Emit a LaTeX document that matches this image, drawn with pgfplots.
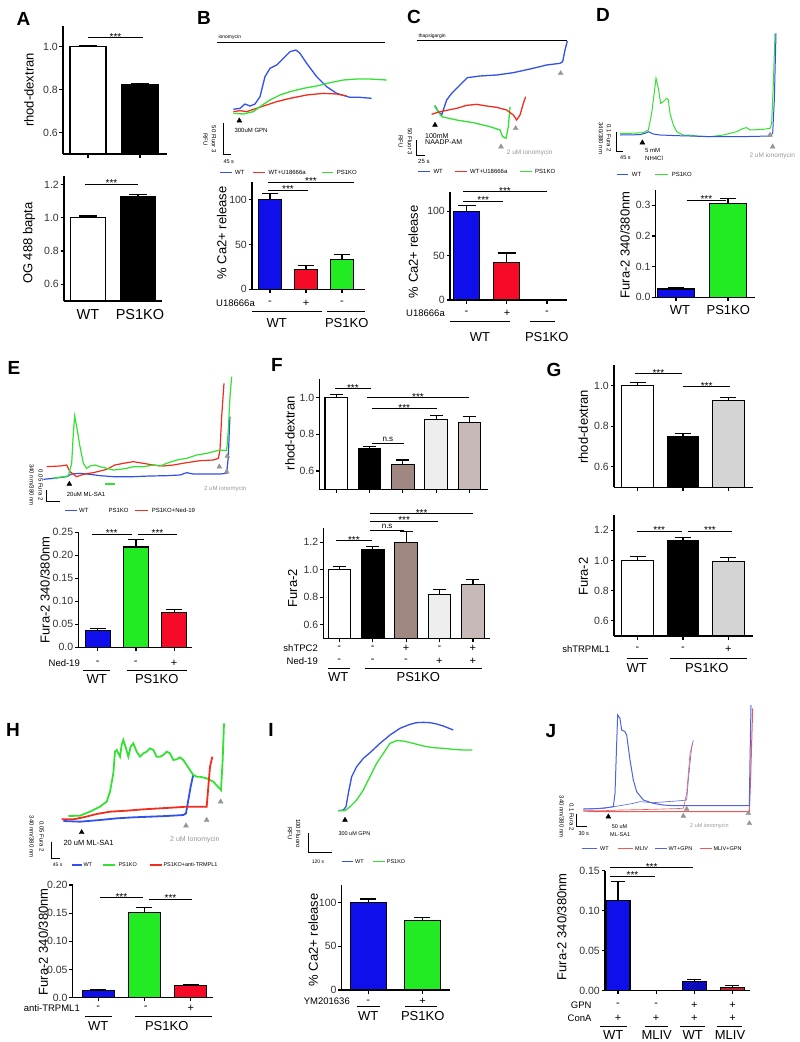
\documentclass[border=0pt]{standalone}
\usepackage{pgfplots}
\pgfplotsset{compat=1.18}
\usetikzlibrary{patterns}
\usepackage{fontspec}
\setmainfont{Liberation Sans}
\definecolor{cB}{RGB}{15,15,235}
\definecolor{cR}{RGB}{245,10,40}
\definecolor{cG}{RGB}{35,235,35}
\definecolor{tB}{RGB}{50,80,235}
\definecolor{tR}{RGB}{240,45,30}
\definecolor{tG}{RGB}{50,225,50}
\definecolor{jB}{RGB}{80,100,225}
\definecolor{jR}{RGB}{235,90,90}
\definecolor{brn}{RGB}{160,135,130}
\definecolor{lgr}{RGB}{238,238,238}
\definecolor{pgr}{RGB}{200,185,185}
\definecolor{ggr}{RGB}{212,212,212}
\definecolor{arr}{RGB}{150,150,150}
\newcommand{\fs}[1]{\fontsize{#1}{#1}\selectfont}
\pgfplotsset{
  tr/.style={scale only axis, hide axis, clip=false, y dir=reverse, xmin=0, ymin=0, anchor=north west},
  bx/.style={scale only axis, anchor=south west, axis lines*=left, axis on top, clip=true,
    axis line style={line width=1.1pt}, tick style={line width=1.1pt, black}, tick align=outside,
    major tick length=3.5pt, xticklabels={,,,,,,},
    yticklabel style={font=\fs{10.5}, text=black!80, inner sep=1.5pt},
    enlargelimits=false},
  bar/.style 2 args={ybar, bar width=#1, draw=black, line width=1.1pt,
    error bars/y dir=plus, error bars/y explicit,
    error bars/error bar style={line width=1.1pt, black, solid},
    error bars/error mark options={rotate=90, mark size=#2, line width=1.1pt, black}},
}
\newcommand\tx[4]{\node[font=\fs{#1}, anchor=west, inner sep=0pt] at (axis cs:#2,#3) {#4};}
\newcommand\gx[4]{\node[font=\fs{#1}, anchor=west, inner sep=0pt, text=arr] at (axis cs:#2,#3) {#4};}
\newcommand\rx[4]{\node[font=\fs{#1}, rotate=-90, inner sep=0pt] at (axis cs:#2,#3) {#4};}
\newcommand\sig[3]{\draw[line width=1pt] (#1,#3) -- (#2,#3); \node[font=\fs{10}, anchor=base, inner sep=0pt] at ({(#1+#2)/2},{#3+2.8}) {***};}
\newcommand\ns[3]{\draw[line width=1pt] (#1,#3) -- (#2,#3); \node[font=\fs{8}, anchor=base, inner sep=0pt] at ({(#1+#2)/2},{#3-1.5}) {n.s};}
\newcommand\hl[3]{\draw[line width=1pt] (#1,#3) -- (#2,#3);}
\newcommand\yl[3]{\node[rotate=90, font=\fs{13}] at (#1,#2) {#3};}
\newcommand\sg[3]{\node[font=\fs{11}, inner sep=0pt] at (#1,#2) {#3};}
\newcommand\gl[3]{\node[font=\fs{13}, inner sep=0pt] at (#1,#2) {#3};}
\newcommand\rl[3]{\node[font=\fs{9.5}, anchor=east, inner sep=0pt] at (#1,#2) {#3};}
\newcommand\pl[3]{\node[font=\fs{19}\bfseries, inner sep=0pt] at (#1,#2) {#3};}
\begin{document}
\begin{tikzpicture}
\useasboundingbox (0,0) rectangle (800pt,-1042pt);

% ---------- B traces
\begin{axis}[tr, at={(190pt,0pt)}, width=200pt, height=330pt, xmax=600, ymax=990]
\addplot[black, line width=1.3pt] coordinates {(80,128)(585,128)};
\tx{5}{85}{112}{ionomycin}
\addplot[tB, line width=1.3pt] coordinates {(130,328)(150,325)(165,312)(180,318)(195,312)(210,290)(225,230)(240,205)(260,195)(280,175)(300,155)(318,150)(330,160)(350,190)(380,230)(410,260)(440,280)(480,292)(510,292)(545,295)};
\addplot[tR, line width=1.3pt] coordinates {(130,335)(150,332)(170,335)(200,325)(230,315)(260,305)(300,295)(350,285)(400,280)(440,282)(470,288)};
\addplot[tG, line width=1.3pt] coordinates {(130,340)(160,342)(190,335)(210,320)(240,300)(270,285)(300,275)(340,265)(380,258)(420,248)(460,240)(500,237)(540,237)(590,240)};
\addplot[only marks, mark=triangle*, mark size=2.8pt, black] coordinates {(148,362)};
\tx{6}{133}{392}{300uM GPN}
\addplot[black, line width=1pt] coordinates {(100,370)(100,463)(122,463)};
\rx{6}{72}{418}{50 Fluor 3}
\rx{6}{46}{418}{RFU}
\tx{5.5}{100}{484}{45 s}
\addplot[tB, line width=1.3pt] coordinates {(90,518)(125,518)};
\tx{6}{135}{518}{WT}
\addplot[tR, line width=1.3pt] coordinates {(190,518)(225,518)};
\tx{6}{235}{518}{WT+U18666a}
\addplot[tG, line width=1.3pt] coordinates {(395,518)(430,518)};
\tx{6}{440}{518}{PS1KO}
\end{axis}

% ---------- C traces
\begin{axis}[tr, at={(380pt,0pt)}, width=220pt, height=330pt, xmax=660, ymax=990]
\addplot[black, line width=1.3pt] coordinates {(110,122)(560,122)};
\tx{5}{115}{108}{thapsigargin}
\addplot[tB, line width=1.3pt] coordinates {(165,317)(175,335)(185,345)(200,300)(215,280)(240,255)(262,233)(300,228)(350,225)(400,218)(450,207)(500,195)(540,190)(548,185)(555,150)(562,123)};
\addplot[tG, line width=1.3pt] coordinates {(163,317)(175,335)(185,350)(230,360)(280,368)(330,380)(360,390)(368,410)(378,415)(385,380)(390,320)};
\addplot[tR, line width=1.3pt] coordinates {(155,343)(170,338)(190,333)(230,325)(260,316)(290,313)(320,318)(350,322)(380,330)(400,345)(410,360)(420,345)(430,310)(437,290)};
\addplot[only marks, mark=triangle*, mark size=2.8pt, black] coordinates {(165,375)};
\addplot[only marks, mark=triangle*, mark size=2.8pt, arr] coordinates {(407,385)(363,440)(542,220)};
\tx{7}{135}{407}{100mM}
\tx{7}{135}{427}{NAADP-AM}
\gx{6.5}{380}{457}{2 uM ionomycin}
\addplot[black, line width=1pt] coordinates {(110,420)(110,465)(135,465)};
\rx{6}{90}{425}{50 Fluor 3}
\rx{6}{62}{425}{RFU}
\tx{6}{114}{483}{25 s}
\addplot[tB, line width=1.3pt] coordinates {(115,515)(150,515)};
\tx{6}{160}{515}{WT}
\addplot[tR, line width=1.3pt] coordinates {(225,515)(260,515)};
\tx{6}{270}{515}{WT+U18666a}
\addplot[tG, line width=1.3pt] coordinates {(420,515)(455,515)};
\tx{6}{465}{515}{PS1KO}
\end{axis}

% ---------- D traces
\begin{axis}[tr, at={(590pt,0pt)}, width=210pt, height=330pt, xmax=630, ymax=990]
\addplot[tG, line width=1pt] coordinates {(90,400)(120,400)(160,398)(175,390)(185,340)(195,260)(198,235)(205,265)(212,310)(220,305)(230,295)(235,300)(240,340)(250,375)(260,395)(280,405)(300,405)(320,408)(360,410)(400,405)(440,395)(460,385)(470,383)(480,390)(520,388)(540,385)(545,370)(550,250)(555,100)};
\addplot[tB, line width=1pt] coordinates {(90,405)(150,404)(165,400)(175,395)(190,402)(210,405)(260,407)(300,408)(360,410)(400,410)(450,410)(500,409)(540,408)(548,400)(553,300)(558,100)};
\addplot[only marks, mark=triangle*, mark size=2.8pt, black] coordinates {(157,428)};
\addplot[only marks, mark=triangle*, mark size=2.8pt, arr] coordinates {(540,405)(548,440)};
\tx{6}{165}{450}{5 mM}
\tx{6}{165}{475}{NH4Cl}
\gx{6.5}{478}{467}{2 uM ionomycin}
\addplot[black, line width=1pt] coordinates {(78,395)(78,455)(100,455)};
\rx{6}{57}{415}{0.1 Fura 2}
\rx{6}{33}{415}{340/380 nm}
\tx{5.5}{90}{472}{45 s}
\addplot[tB, line width=1.3pt] coordinates {(80,523)(115,523)};
\tx{6}{125}{523}{WT}
\addplot[tG, line width=1.3pt] coordinates {(195,523)(235,523)};
\tx{6}{245}{523}{PS1KO}
\end{axis}

% ---------- E traces
\begin{axis}[tr, at={(0pt,-330pt)}, width=270pt, height=330pt, xmax=810, ymax=990]
\addplot[tB, line width=1.2pt] coordinates {(130,448)(160,445)(200,440)(215,432)(240,430)(270,433)(300,437)(340,440)(400,440)(450,438)(500,437)(540,435)(560,428)(580,432)(620,432)(660,432)(680,430)(685,380)(688,300)(690,260)};
\addplot[tR, line width=1.2pt] coordinates {(140,410)(180,408)(200,405)(210,425)(230,440)(250,433)(280,428)(320,418)(345,405)(370,400)(400,395)(430,400)(460,405)(490,408)(520,405)(560,398)(600,392)(640,390)(655,385)(660,360)(665,260)(672,160)};
\addplot[tG, line width=1.2pt] coordinates {(160,445)(190,440)(205,438)(215,400)(220,310)(224,258)(230,290)(240,350)(250,400)(260,415)(270,408)(285,405)(300,410)(320,415)(340,420)(360,418)(380,415)(400,410)(430,410)(460,405)(480,408)(500,400)(530,390)(560,385)(590,375)(620,370)(640,365)(660,360)(680,362)(685,300)(690,200)(695,140)};
\addplot[only marks, mark=triangle*, mark size=2.8pt, black] coordinates {(208,462)};
\addplot[only marks, mark=triangle*, mark size=2.8pt, arr] coordinates {(658,410)(682,378)(680,425)};
\addplot[tG, line width=1.8pt] coordinates {(315,462)(345,462)};
\tx{6}{200}{492}{20uM ML-SA1}
\gx{6}{612}{478}{2 uM ionomycin}
\addplot[black, line width=1pt] coordinates {(140,480)(140,515)(180,515)};
\rx{6}{122}{465}{0.05 Fura 2}
\rx{6}{95}{465}{340 nm/380 nm}
\addplot[tB, line width=1.3pt] coordinates {(195,542)(230,542)};
\tx{6}{237}{542}{WT}
\tx{6}{325}{542}{PS1KO}
\addplot[tR, line width=1.3pt] coordinates {(405,542)(445,542)};
\tx{6}{455}{542}{PS1KO+Ned-19}
\end{axis}

% ---------- H traces
\begin{axis}[tr, at={(0pt,-660pt)}, width=270pt, height=382pt, xmax=810, ymax=1146]
\addplot[tB, line width=1.8pt] coordinates {(190,483)(240,485)(300,480)(350,475)(400,472)(450,470)(500,468)(550,465)(558,460)(565,420)(572,380)(580,343)};
\addplot[tG, line width=1.8pt] coordinates {(205,468)(240,467)(270,455)(300,440)(320,425)(330,395)(340,340)(345,275)(350,270)(355,280)(360,290)(365,255)(370,240)(378,265)(385,290)(392,260)(400,250)(410,275)(420,290)(430,280)(440,275)(450,265)(460,270)(470,290)(480,290)(490,285)(500,275)(510,280)(520,300)(530,298)(540,292)(550,300)(560,315)(570,330)(580,345)(590,350)(600,350)(620,355)(640,365)(663,390)(668,300)(672,190)};
\addplot[tR, line width=1.8pt] coordinates {(185,478)(220,478)(250,472)(290,462)(330,455)(380,452)(430,448)(480,445)(530,442)(560,440)(580,440)(620,440)(625,380)(630,320)(637,290)};
\addplot[only marks, mark=triangle*, mark size=2.8pt, black] coordinates {(245,517)};
\addplot[only marks, mark=triangle*, mark size=2.8pt, arr] coordinates {(558,497)(620,480)(662,425)};
\tx{7.5}{190}{550}{20 uM ML-SA1}
\gx{7}{510}{540}{2 uM Ionomycin}
\addplot[black, line width=1pt] coordinates {(155,545)(155,595)(180,595)};
\rx{6}{125}{530}{0.05 Fura 2}
\rx{6}{95}{530}{340 nm/380 nm}
\tx{5}{158}{615}{45 s}
\addplot[tB, line width=1.3pt] coordinates {(215,615)(245,615)};
\tx{5.5}{250}{615}{WT}
\addplot[tG, line width=1.3pt] coordinates {(310,615)(345,615)};
\tx{5.5}{355}{615}{PS1KO}
\addplot[tR, line width=1.3pt] coordinates {(450,615)(485,615)};
\tx{5.5}{490}{615}{PS1KO+anti-TRMPL1}
\end{axis}

% ---------- I traces
\begin{axis}[tr, at={(270pt,-660pt)}, width=250pt, height=382pt, xmax=750, ymax=1146]
\addplot[tB, line width=1.3pt] coordinates {(205,452)(220,450)(228,440)(235,400)(245,350)(260,320)(280,295)(300,278)(330,250)(360,225)(390,205)(420,193)(440,188)(460,187)(480,188)(500,192)(520,198)(550,210)};
\addplot[tG, line width=1.3pt] coordinates {(205,452)(225,452)(240,440)(260,420)(280,390)(300,350)(320,310)(340,280)(360,250)(380,242)(400,243)(430,250)(460,258)(490,263)(520,265)(550,268)(580,270)(607,270)};
\addplot[only marks, mark=triangle*, mark size=2.8pt, black] coordinates {(225,480)};
\tx{5.5}{205}{522}{300 uM GPN}
\addplot[black, line width=1pt] coordinates {(115,520)(115,578)(185,578)};
\rx{6}{85}{520}{100 Fluoro}
\rx{6}{60}{520}{RFU}
\tx{5}{125}{605}{120 s}
\addplot[tB, line width=1.3pt] coordinates {(215,605)(250,605)};
\tx{5.5}{255}{605}{WT}
\addplot[tG, line width=1.3pt] coordinates {(310,605)(345,605)};
\tx{5.5}{350}{605}{PS1KO}
\end{axis}

% ---------- J traces
\begin{axis}[tr, at={(520pt,-660pt)}, width=280pt, height=382pt, xmax=840, ymax=1146]
\addplot[jB, line width=0.6pt] coordinates {(190,447)(250,445)(300,437)(340,430)(360,425)(400,428)(440,425)(470,423)(500,420)(505,360)(515,260)(520,240)};
\addplot[jR, line width=0.6pt] coordinates {(190,452)(250,452)(300,450)(400,448)(490,445)(500,400)(510,280)(518,250)};
\addplot[jR, line width=1pt] coordinates {(190,453)(230,455)(300,455)(400,455)(500,455)(600,455)(688,455)(692,350)(698,145)};
\addplot[jB, line width=1pt] coordinates {(190,447)(230,446)(260,443)(280,440)(285,400)(290,250)(293,165)(300,175)(305,210)(315,215)(320,225)(330,300)(340,360)(350,395)(370,420)(400,430)(430,435)(460,437)(500,437)(550,437)(600,437)(650,437)(688,437)(690,300)(693,135)};
\addplot[only marks, mark=triangle*, mark size=2.8pt, black] coordinates {(265,470)};
\addplot[only marks, mark=triangle*, mark size=2.8pt, arr] coordinates {(490,468)(500,447)(685,460)(688,490)};
\tx{5.5}{275}{500}{50 uM}
\tx{5.5}{270}{523}{ML-SA1}
\gx{5.5}{510}{498}{2 uM ionomycin}
\addplot[black, line width=1pt] coordinates {(170,462)(170,500)(200,500)};
\rx{6}{155}{470}{0.1 Fura 2}
\rx{6}{125}{470}{340 nm/380 nm}
\tx{5.5}{175}{522}{30 s}
\addplot[jB, line width=1.6pt] coordinates {(185,565)(230,565)};
\tx{5.5}{240}{565}{WT}
\addplot[jR, line width=1.6pt] coordinates {(295,565)(340,565)};
\tx{5.5}{345}{565}{MLIV}
\addplot[jB, line width=0.6pt] coordinates {(405,565)(440,565)};
\tx{5.5}{445}{565}{WT+GPN}
\addplot[jR, line width=0.6pt] coordinates {(540,565)(575,565)};
\tx{5.5}{580}{565}{MLIV+GPN}
\end{axis}

% ---------- bar charts
% A top
\begin{axis}[bx, at={(63pt,-154pt)}, width=104pt, height=128.5pt, xmin=-0.48, xmax=1.52, ymin=0.5, ymax=1.1,
  xtick={0,1}, ytick={0.6,0.8,1.0}, yticklabels={0.6,0.8,1.0}]
\addplot[fill=white, bar={36pt}{9pt}] coordinates {(0,1.0) +- (0,0.006)};
\addplot[fill=black, bar={36pt}{9pt}] coordinates {(1,0.826) +- (0,0.005)};
\end{axis}
% A bottom
\begin{axis}[bx, at={(64pt,-301pt)}, width=98pt, height=125pt, xmin=-0.48, xmax=1.48, ymin=0.5, ymax=1.25,
  xtick=\empty, ytick={0.6,0.8,1.0,1.2}, yticklabels={0.6,0.8,1.0,1.2}]
\addplot[fill=white, bar={35pt}{9pt}] coordinates {(0,1.0) +- (0,0.01)};
\addplot[fill=black, bar={35pt}{9pt}] coordinates {(1,1.125) +- (0,0.015)};
\end{axis}
% B
\begin{axis}[bx, at={(252pt,-289.3pt)}, width=113pt, height=107.6pt, xmin=-0.5, xmax=2.64, ymin=0, ymax=120,
  xtick={0,1,2}, ytick={0,50,100}, yticklabels={0,50,100}]
\addplot[fill=cB, bar={23pt}{8pt}] coordinates {(0,100) +- (0,7)};
\addplot[fill=cR, bar={23pt}{8pt}] coordinates {(1,22) +- (0,5)};
\addplot[fill=cG, bar={23pt}{8pt}] coordinates {(2,33) +- (0,6)};
\end{axis}
% C
\begin{axis}[bx, at={(450pt,-300pt)}, width=116.7pt, height=108.3pt, xmin=-0.41, xmax=2.49, ymin=0, ymax=122,
  xtick={0,1,2}, ytick={0,50,100}, yticklabels={0,50,100}]
\addplot[fill=cB, bar={26pt}{9pt}] coordinates {(0,100) +- (0,6)};
\addplot[fill=cR, bar={26pt}{9pt}] coordinates {(1,42) +- (0,11)};
\addplot[fill=cG, bar={26pt}{9pt}] coordinates {(2,0.6) +- (0,0.4)};
\end{axis}
% D
\begin{axis}[bx, at={(655.7pt,-297.3pt)}, width=99.3pt, height=107.3pt, xmin=-0.39, xmax=1.52, ymin=0, ymax=0.35,
  xtick={0,1}, ytick={0,0.1,0.2,0.3}, yticklabels={0.0,0.1,0.2,0.3}]
\addplot[fill=cB, bar={37pt}{8pt}] coordinates {(0,0.027) +- (0,0.005)};
\addplot[fill=cG, bar={37pt}{8pt}] coordinates {(1,0.305) +- (0,0.017)};
\end{axis}
% E
\begin{axis}[bx, at={(78.3pt,-647.3pt)}, width=113.4pt, height=115pt, xmin=-0.51, xmax=2.46, ymin=0, ymax=0.25,
  xtick={0,1,2}, ytick={0,0.05,0.1,0.15,0.2,0.25}, yticklabels={0.0,0.05,0.10,0.15,0.20,0.25}]
\addplot[fill=cB, bar={25pt}{8pt}] coordinates {(0,0.036) +- (0,0.005)};
\addplot[fill=cG, bar={25pt}{8pt}] coordinates {(1,0.218) +- (0,0.016)};
\addplot[fill=cR, bar={25pt}{8pt}] coordinates {(2,0.075) +- (0,0.007)};
\end{axis}
% F top
\begin{axis}[bx, at={(319.3pt,-489.3pt)}, width=169pt, height=110pt, xmin=-0.51, xmax=4.57, ymin=0.5, ymax=1.1,
  xtick={0,1,2,3,4}, ytick={0.6,0.8,1.0}, yticklabels={0.6,0.8,1.0}]
\addplot[fill=white, bar={22.5pt}{6.5pt}] coordinates {(0,1.0) +- (0,0.015)};
\addplot[fill=black, bar={22.5pt}{6.5pt}] coordinates {(1,0.72) +- (0,0.012)};
\addplot[fill=brn, bar={22.5pt}{6.5pt}] coordinates {(2,0.635) +- (0,0.025)};
\addplot[fill=lgr, bar={22.5pt}{6.5pt}] coordinates {(3,0.88) +- (0,0.025)};
\addplot[fill=pgr, bar={22.5pt}{6.5pt}] coordinates {(4,0.865) +- (0,0.032)};
\end{axis}
% F bottom
\begin{axis}[bx, at={(323.3pt,-638.3pt)}, width=166.7pt, height=110pt, xmin=-0.48, xmax=4.51, ymin=0.5, ymax=1.3,
  xtick={0,1,2,3,4}, ytick={0.6,0.8,1.0,1.2}, yticklabels={0.6,0.8,1.0,1.2}]
\addplot[fill=white, bar={22.5pt}{6.5pt}] coordinates {(0,1.0) +- (0,0.02)};
\addplot[fill=black, bar={22.5pt}{6.5pt}] coordinates {(1,1.145) +- (0,0.025)};
\addplot[fill=brn, bar={22.5pt}{6.5pt}] coordinates {(2,1.2) +- (0,0.075)};
\addplot[fill=lgr, bar={22.5pt}{6.5pt}] coordinates {(3,0.82) +- (0,0.035)};
\addplot[fill=pgr, bar={22.5pt}{6.5pt}] coordinates {(4,0.89) +- (0,0.035)};
\end{axis}
% G top
\begin{axis}[bx, at={(614pt,-487.3pt)}, width=139.3pt, height=122.3pt, xmin=-0.52, xmax=2.55, ymin=0.5, ymax=1.1,
  xtick={0,1,2}, ytick={0.6,0.8,1.0}, yticklabels={0.6,0.8,1.0}]
\addplot[fill=white, bar={31.5pt}{8pt}] coordinates {(0,1.0) +- (0,0.015)};
\addplot[fill=black, bar={31.5pt}{8pt}] coordinates {(1,0.75) +- (0,0.012)};
\addplot[fill=ggr, bar={31.5pt}{8pt}] coordinates {(2,0.925) +- (0,0.015)};
\end{axis}
% G bottom
\begin{axis}[bx, at={(614pt,-636pt)}, width=139.3pt, height=121pt, xmin=-0.52, xmax=2.55, ymin=0.5, ymax=1.3,
  xtick={0,1,2}, ytick={0.6,0.8,1.0,1.2}, yticklabels={0.6,0.8,1.0,1.2}]
\addplot[fill=white, bar={31.5pt}{8pt}] coordinates {(0,1.0) +- (0,0.025)};
\addplot[fill=black, bar={31.5pt}{8pt}] coordinates {(1,1.13) +- (0,0.02)};
\addplot[fill=ggr, bar={31.5pt}{8pt}] coordinates {(2,0.995) +- (0,0.025)};
\end{axis}
% H
\begin{axis}[bx, at={(72.7pt,-997.7pt)}, width=140.6pt, height=112.7pt, xmin=-0.55, xmax=2.49, ymin=0, ymax=0.2,
  xtick={0,1,2}, ytick={0,0.05,0.1,0.15,0.2}, yticklabels={0.0,0.05,0.10,0.15,0.20}]
\addplot[fill=cB, bar={32pt}{8pt}] coordinates {(0,0.013) +- (0,0.001)};
\addplot[fill=cG, bar={32pt}{8pt}] coordinates {(1,0.151) +- (0,0.009)};
\addplot[fill=cR, bar={32pt}{8pt}] coordinates {(2,0.022) +- (0,0.002)};
\end{axis}
% I
\begin{axis}[bx, at={(341.7pt,-990pt)}, width=108.3pt, height=105pt, xmin=-0.49, xmax=1.51, ymin=0, ymax=120,
  xtick={0,1}, ytick={0,50,100}, yticklabels={0,50,100}]
\addplot[fill=cB, bar={36pt}{8pt}] coordinates {(0,100) +- (0,4)};
\addplot[fill=cG, bar={36pt}{8pt}] coordinates {(1,79) +- (0,4)};
\end{axis}
% J
\begin{axis}[bx, at={(605pt,-990.7pt)}, width=145pt, height=120pt, xmin=-0.34, xmax=3.46, ymin=0, ymax=0.15,
  xtick={0,1,2,3}, ytick={0,0.05,0.1,0.15}, yticklabels={0.00,0.05,0.10,0.15}]
\addplot[fill=cB, bar={24pt}{7pt}] coordinates {(0,0.113) +- (0,0.024)};
\addplot[fill=cR, bar={24pt}{7pt}] coordinates {(1,0)};
\addplot[fill=cB, postaction={pattern=north east lines, pattern color=blue!35!black}, bar={24pt}{7pt}] coordinates {(2,0.012) +- (0,0.002)};
\addplot[fill=cR, postaction={pattern=north east lines, pattern color=black!70}, bar={24pt}{7pt}] coordinates {(3,0.004) +- (0,0.002)};
\end{axis}

% ---------- annotations (pixel coordinates, y downwards)
\begin{scope}[x=1pt, y=-1pt]
% A
\pl{23.5}{18.5}{A}
\yl{29}{90}{rhod-dextran}
\sig{88}{143}{37.7}
\yl{29}{243}{OG 488 bapta}
\sig{85}{138}{184}
\node[font=\fs{14.5}] at (88,315) {WT};
\node[font=\fs{14.5}] at (140,315) {PS1KO};
% B
\pl{204}{17.5}{B}
\yl{221.7}{233}{\% Ca2+ release}
\sig{268}{308}{190}
\sig{268}{354}{182}
\rl{255}{303}{U18666a}
\sg{270}{303}{-}\sg{306}{303}{+}\sg{342}{303}{-}
\hl{252}{321.7}{311.7}\hl{326.7}{365}{311.7}
\gl{276.7}{323}{WT}\gl{346.7}{323}{PS1KO}
% C
\pl{414}{17}{C}
\yl{413.3}{251.7}{\% Ca2+ release}
\sig{463.3}{503.3}{201}
\sig{463.3}{546.7}{191.7}
\rl{445}{313.3}{U18666a}
\sg{466.5}{313.3}{-}\sg{507}{313.3}{+}\sg{547}{313.3}{-}
\hl{450}{510}{321.7}\hl{530}{555}{321.7}
\gl{480}{336.7}{WT}\gl{546.7}{336.7}{PS1KO}
% D
\pl{603}{15}{D}
\yl{625}{245}{Fura-2 340/380nm}
\sig{686.7}{726}{200}
\gl{680}{310}{WT}\gl{728.3}{310}{PS1KO}
% E
\pl{14}{368}{E}
\yl{45}{590}{Fura-2 340/380nm}
\sig{91.7}{131.7}{534}
\sig{138.3}{176.7}{534}
\rl{80}{663}{Ned-19}
\sg{97.8}{663}{-}\sg{135.8}{663}{-}\sg{174.2}{663}{+}
\hl{83}{110}{670}\hl{126.7}{186.7}{670}
\gl{96.7}{679}{WT}\gl{156.7}{679}{PS1KO}
% F
\pl{277}{365}{F}
\yl{290}{433.3}{rhod-dextran}
\sig{335}{370.7}{388.3}
\sig{366.7}{469.3}{397.7}
\sig{371.7}{436.7}{408.3}
\ns{371.7}{404}{443.3}
\yl{292.7}{588.3}{Fura-2}
\sig{336}{371.7}{540.7}
\ns{370}{404.3}{530}
\sig{370}{438.3}{521}
\sig{370}{473.3}{513.3}
\rl{318}{648.3}{shTPC2}
\sg{339.2}{648.3}{-}\sg{372.6}{648.3}{-}\sg{406}{648.3}{+}\sg{439.4}{648.3}{-}\sg{472.8}{648.3}{+}
\rl{318}{661}{Ned-19}
\sg{339.2}{661}{-}\sg{372.6}{661}{-}\sg{406}{661}{-}\sg{439.4}{661}{+}\sg{472.8}{661}{+}
\hl{328.3}{350}{668.3}\hl{365}{481.7}{668.3}
\gl{338.3}{677.5}{WT}\gl{418.3}{677.5}{PS1KO}
% G
\pl{554}{370}{G}
\yl{583.3}{426.7}{rhod-dextran}
\sig{635}{681.7}{373.3}
\sig{683.3}{730}{386.7}
\yl{583.3}{576.7}{Fura-2}
\sig{636.7}{681.7}{531}
\sig{688.3}{731.7}{531}
\rl{610}{649.3}{shTRPML1}
\sg{637.5}{649.3}{-}\sg{682.9}{649.3}{-}\sg{728.3}{649.3}{+}
\hl{626.7}{648.3}{658.3}\hl{670}{746.7}{658.3}
\gl{636.7}{668.3}{WT}\gl{706.7}{668.3}{PS1KO}
% H
\pl{13}{730}{H}
\yl{43.3}{941.7}{Fura-2 340/380nm}
\sig{100}{142.7}{897.3}
\sig{149.3}{191.7}{899}
\rl{80}{1008.3}{anti-TRPML1}
\sg{98.3}{1008.3}{-}\sg{145.8}{1008.3}{-}\sg{190.8}{1008.3}{+}
\hl{85}{111.7}{1016.7}\hl{135}{211.7}{1016.7}
\gl{98.3}{1026}{WT}\gl{166.7}{1026}{PS1KO}
% I
\pl{271}{730}{I}
\yl{313.3}{940}{\% Ca2+ release}
\rl{350}{1001.7}{YM201636}
\sg{368.3}{1001.7}{-}\sg{422.5}{1001.7}{+}
\hl{356.7}{380}{1006.7}\hl{405}{436.7}{1006.7}
\gl{368.3}{1016.5}{WT}\gl{422.7}{1016.5}{PS1KO}
% J
\pl{551}{731}{J}
\yl{561.7}{926.7}{Fura-2 340/380nm}
\sig{610}{655}{876}
\sig{610}{693.3}{867.3}
\rl{591.7}{1005}{GPN}
\sg{618}{1005}{-}\sg{656.2}{1005}{-}\sg{694.4}{1005}{+}\sg{732.6}{1005}{+}
\rl{591.7}{1018.3}{ConA}
\sg{618}{1018.3}{+}\sg{656.2}{1018.3}{+}\sg{694.4}{1018.3}{+}\sg{732.6}{1018.3}{+}
\hl{600}{626.7}{1026}\hl{645}{668.3}{1026}\hl{680}{705}{1026}\hl{716.7}{741.7}{1026}
\gl{613.3}{1035.5}{WT}\gl{656.7}{1035.5}{MLIV}\gl{692.7}{1035.5}{WT}\gl{730}{1035.5}{MLIV}
\end{scope}
\end{tikzpicture}
\end{document}
